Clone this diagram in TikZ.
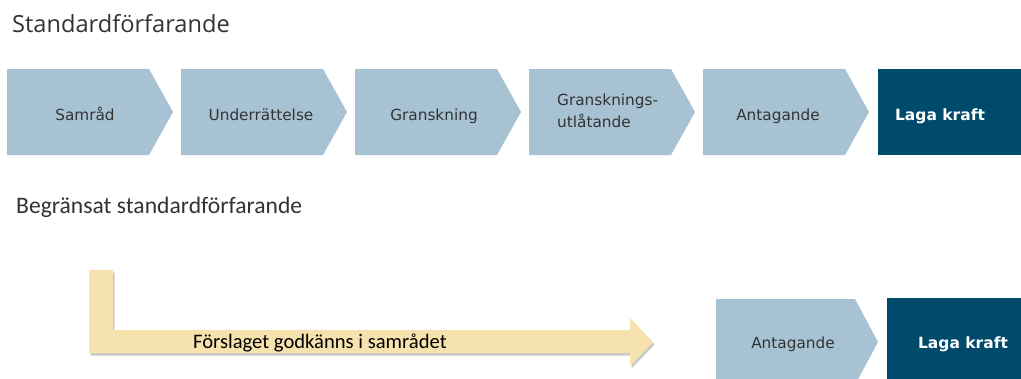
\documentclass[tikz,border=0pt]{standalone}
\usepackage{fontspec}
\usetikzlibrary{shadows}
\newfontfamily\headfont{Open Sans}
\newfontfamily\calfont{Carlito}
\newfontfamily\boxfont{DejaVu Sans}
\definecolor{chevblue}{HTML}{A7C3D3}
\definecolor{darkblue}{HTML}{004B6B}
\definecolor{arrowyellow}{HTML}{F5E2AC}
\definecolor{txtgray}{HTML}{333333}
\tikzset{
  chev/.style={fill=chevblue},
  darkbox/.style={fill=darkblue},
  boxtext/.style={inner sep=0pt, anchor=base, text=txtgray, font=\boxfont\fontsize{15.3}{19}\selectfont},
  lagatext/.style={inner sep=0pt, anchor=base, text=white, font=\boxfont\bfseries\fontsize{15.5}{19}\selectfont},
  headone/.style={inner sep=0pt, anchor=base west, text=txtgray, font=\headfont\fontsize{23.6}{28}\selectfont},
  headtwo/.style={inner sep=0pt, anchor=base west, text=txtgray, font=\calfont\fontsize{23.6}{28}\selectfont},
  arrowtext/.style={inner sep=0pt, anchor=base west, text=black, font=\calfont\fontsize{20.6}{24}\selectfont},
  bigarrow/.style={fill=arrowyellow, drop shadow={shadow xshift=1.5pt, shadow yshift=-2.5pt, opacity=0.35, fill=black!60}}
}
\newcommand\chevshape[4]{% left, top, rect width, tip width ; height 86
  \fill[chev] (#1,#2) -- ++(#3,0) -- ++(#4,43) -- ++(-#4,43) -- ++(-#3,0) -- cycle;}
\begin{document}
\begin{tikzpicture}[x=1pt,y=-1pt]
\useasboundingbox (0,0) rectangle (1021,378);
\clip (0,0) rectangle (1021,378);
\fill[white] (0,0) rectangle (1021,378);

% headings
\node[headone] (h1) at (12,32) {Standardförfarande};
\node[headtwo] (h2) at (16,213) {Begränsat standardförfarande};

% top row
\chevshape{7}{69}{142}{24}
\chevshape{181}{69}{142}{24}
\chevshape{355}{69}{142}{24}
\chevshape{529}{69}{142}{24}
\chevshape{703}{69}{142}{24}
\fill[darkbox] (878,69) rectangle (1021,155);

\node[boxtext] (samrad) at (85,120) {Samråd};
\node[boxtext] (underr) at (261,120) {Underrättelse};
\node[boxtext] (gransk) at (434,120) {Granskning};
\node[boxtext, anchor=base west] (utlat1) at (557,105) {Gransknings-};
\node[boxtext, anchor=base west] (utlat2) at (557,127) {utlåtande};
\node[boxtext] (antag1) at (778,120) {Antagande};
\node[lagatext] (laga1) at (940,120) {Laga kraft};

% bottom row
\chevshape{716}{299}{139}{23}
\fill[darkbox] (887,298) rectangle (1021,385);
\node[boxtext] (antag2) at (793,348) {Antagande};
\node[lagatext] (laga2) at (963,348) {Laga kraft};

% yellow bent arrow
\path[bigarrow] (89,270) -- (113,270) -- (113,330) -- (630,330) -- (630,318)
  -- (653,342) -- (630,366) -- (630,353) -- (89,353) -- cycle;
\node[arrowtext] (forslag) at (193,348) {Förslaget godkänns i samrådet};
\end{tikzpicture}
\end{document}
